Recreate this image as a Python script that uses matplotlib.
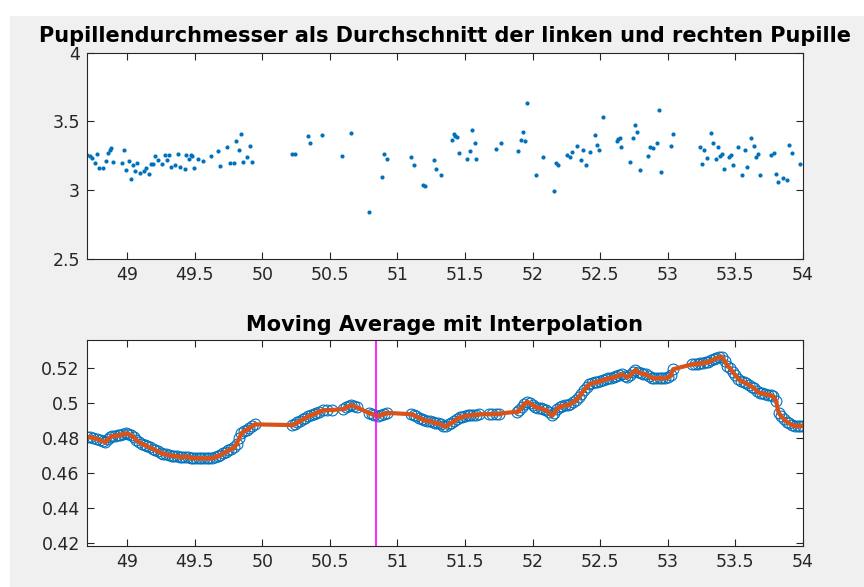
import matplotlib
matplotlib.use("Agg")
import matplotlib.pyplot as plt
from matplotlib.patches import Rectangle

# ---------------- data ----------------
# top: pupil diameter (mean of left/right) over time
pupil_t = [48.704, 48.724, 48.741, 48.761, 48.778, 48.793, 48.822, 48.842, 48.859, 48.872,
           48.879, 48.896, 48.963, 48.978, 48.995, 49.012, 49.027, 49.044, 49.062, 49.076,
           49.094, 49.126, 49.143, 49.160, 49.175, 49.192, 49.210, 49.229, 49.261, 49.279,
           49.296, 49.311, 49.328, 49.358, 49.377, 49.390, 49.427, 49.439, 49.456, 49.471,
           49.481, 49.496, 49.525, 49.562, 49.624, 49.673, 49.691, 49.742, 49.760, 49.789,
           49.809, 49.826, 49.840, 49.858, 49.890, 49.907, 49.925,
           50.221, 50.240, 50.339, 50.356, 50.443, 50.591, 50.655, 50.790, 50.887, 50.901,
           50.924, 51.104, 51.121, 51.190, 51.207, 51.271, 51.288, 51.321, 51.404, 51.417,
           51.429, 51.444, 51.454, 51.518, 51.535, 51.552, 51.572, 51.584,
           51.727, 51.764, 51.894, 51.911, 51.926, 51.943, 51.961, 52.027, 52.076, 52.158,
           52.175, 52.190, 52.256, 52.273, 52.291, 52.325, 52.360, 52.374, 52.392, 52.424,
           52.458, 52.473, 52.490, 52.522, 52.621, 52.633, 52.643, 52.655, 52.724, 52.739,
           52.756, 52.773, 52.791, 52.855, 52.872, 52.887, 52.921, 52.938, 52.953, 53.020,
           53.037, 53.236, 53.254, 53.271, 53.288, 53.320, 53.337, 53.355, 53.369, 53.387,
           53.404, 53.419, 53.451, 53.468, 53.483, 53.517, 53.552, 53.569, 53.586, 53.618,
           53.635, 53.653, 53.665, 53.685, 53.764, 53.783, 53.800, 53.815, 53.850, 53.882,
           53.899, 53.919, 53.980]
pupil_d = [3.253, 3.246, 3.236, 3.200, 3.263, 3.159, 3.163, 3.214, 3.272, 3.294,
           3.306, 3.202, 3.197, 3.289, 3.149, 3.209, 3.084, 3.185, 3.139, 3.197,
           3.125, 3.137, 3.163, 3.117, 3.192, 3.188, 3.246, 3.217, 3.190, 3.253,
           3.217, 3.253, 3.166, 3.180, 3.265, 3.168, 3.151, 3.253, 3.229, 3.253,
           3.251, 3.159, 3.226, 3.212, 3.251, 3.285, 3.178, 3.316, 3.195, 3.197,
           3.355, 3.294, 3.406, 3.205, 3.241, 3.323, 3.202,
           3.263, 3.263, 3.396, 3.345, 3.401, 3.251, 3.413, 2.841, 3.093, 3.263,
           3.226, 3.241, 3.185, 3.035, 3.033, 3.219, 3.156, 3.108, 3.367, 3.410,
           3.393, 3.384, 3.270, 3.229, 3.287, 3.435, 3.347, 3.229,
           3.299, 3.340, 3.287, 3.362, 3.423, 3.355, 3.633, 3.110, 3.241, 2.994,
           3.197, 3.185, 3.253, 3.241, 3.275, 3.318, 3.217, 3.289, 3.180, 3.280,
           3.398, 3.326, 3.294, 3.534, 3.360, 3.372, 3.381, 3.311, 3.205, 3.381,
           3.476, 3.427, 3.146, 3.251, 3.311, 3.306, 3.343, 3.585, 3.132, 3.323,
           3.408, 3.316, 3.192, 3.294, 3.234, 3.415, 3.345, 3.224, 3.316, 3.248,
           3.265, 3.154, 3.241, 3.255, 3.185, 3.311, 3.110, 3.292, 3.166, 3.381,
           3.323, 3.243, 3.260, 3.110, 3.258, 3.272, 3.115, 3.059, 3.091, 3.071,
           3.326, 3.272, 3.190]

# bottom: moving average samples
ma_t = [48.705, 48.73, 48.75, 48.775, 48.80, 48.82, 48.84, 48.86, 48.875, 48.89,
        48.91, 48.93, 48.95, 48.97, 48.99, 49.01, 49.03, 49.05, 49.07, 49.09,
        49.11, 49.13, 49.15, 49.17, 49.19, 49.21, 49.23, 49.25, 49.27, 49.29,
        49.31, 49.33, 49.35, 49.37, 49.39, 49.41, 49.43, 49.45, 49.47, 49.49,
        49.51, 49.53, 49.55, 49.57, 49.59, 49.61, 49.63, 49.65, 49.67, 49.69,
        49.71, 49.73, 49.75, 49.77, 49.79, 49.81, 49.83, 49.845, 49.865, 49.885,
        49.905, 49.925, 49.945,
        50.22, 50.24, 50.26, 50.28, 50.30, 50.32, 50.34, 50.36, 50.38, 50.40,
        50.42, 50.45, 50.48, 50.52, 50.60, 50.62, 50.64, 50.66, 50.68, 50.70,
        50.79, 50.81, 50.83, 50.86, 50.88, 50.90, 50.92,
        51.10, 51.12, 51.14, 51.16, 51.18, 51.20, 51.22, 51.24, 51.26, 51.28,
        51.30, 51.32, 51.34, 51.36, 51.38, 51.40, 51.42, 51.44, 51.46, 51.48,
        51.50, 51.52, 51.54, 51.56, 51.58, 51.60,
        51.675, 51.70, 51.73, 51.755,
        51.885, 51.90, 51.92, 51.94, 51.96, 51.98, 52.00, 52.02, 52.04, 52.06,
        52.08, 52.10, 52.12, 52.14, 52.16, 52.18, 52.20, 52.22, 52.24, 52.26,
        52.28, 52.30, 52.32, 52.34, 52.36, 52.38, 52.40, 52.42, 52.44, 52.46,
        52.48, 52.50, 52.52, 52.54, 52.56, 52.58, 52.60, 52.62, 52.64, 52.66,
        52.68, 52.70, 52.72, 52.74, 52.76, 52.78, 52.80, 52.82, 52.84, 52.86,
        52.88, 52.90, 52.92, 52.94, 52.96, 52.98, 53.00, 53.02, 53.04,
        53.18, 53.20, 53.22, 53.24, 53.26, 53.28, 53.30, 53.32, 53.34, 53.36,
        53.38, 53.40, 53.42, 53.44, 53.46, 53.48, 53.50, 53.52, 53.54, 53.56,
        53.58, 53.60, 53.62, 53.64, 53.66, 53.68, 53.70, 53.72, 53.74, 53.76,
        53.78, 53.80, 53.82, 53.84, 53.86, 53.88, 53.90, 53.92, 53.94, 53.96,
        53.98, 54.00]
ma_v = [0.4805, 0.4808, 0.4802, 0.4797, 0.4790, 0.4784, 0.4781, 0.4795, 0.4806, 0.4812,
        0.4815, 0.4818, 0.4820, 0.4824, 0.4828, 0.4826, 0.4818, 0.4806, 0.4792, 0.4778,
        0.4770, 0.4763, 0.4755, 0.4748, 0.4740, 0.4733, 0.4725, 0.4718, 0.4713, 0.4708,
        0.4705, 0.4702, 0.4700, 0.4698, 0.4695, 0.4695, 0.4696, 0.4694, 0.4690, 0.4689,
        0.4687, 0.4686, 0.4686, 0.4686, 0.4686, 0.4686, 0.4688, 0.4694, 0.4700, 0.4706,
        0.4714, 0.4724, 0.4732, 0.4740, 0.4748, 0.4770, 0.4800, 0.4828, 0.4840, 0.4850,
        0.4860, 0.4870, 0.4880,
        0.4876, 0.4884, 0.4892, 0.4900, 0.4910, 0.4918, 0.4925, 0.4932, 0.4940, 0.4947,
        0.4953, 0.4960, 0.4962, 0.4962, 0.4968, 0.4978, 0.4985, 0.4990, 0.4985, 0.4977,
        0.4945, 0.4940, 0.4935, 0.4930, 0.4935, 0.4942, 0.4946,
        0.4938, 0.4932, 0.4925, 0.4918, 0.4912, 0.4906, 0.4902, 0.4898, 0.4894, 0.4890,
        0.4887, 0.4880, 0.4873, 0.4868, 0.4880, 0.4890, 0.4900, 0.4912, 0.4920, 0.4924,
        0.4928, 0.4931, 0.4933, 0.4934, 0.4936, 0.4937,
        0.4939, 0.4940, 0.4941, 0.4942,
        0.4952, 0.4962, 0.4980, 0.4996, 0.5009, 0.5000, 0.4990, 0.4982, 0.4976, 0.4972,
        0.4966, 0.4960, 0.4948, 0.4932, 0.4945, 0.4970, 0.4980, 0.4986, 0.4989, 0.4992,
        0.4996, 0.5008, 0.5020, 0.5038, 0.5056, 0.5078, 0.5096, 0.5108, 0.5114, 0.5120,
        0.5124, 0.5129, 0.5134, 0.5138, 0.5143, 0.5146, 0.5150, 0.5154, 0.5163, 0.5165,
        0.5158, 0.5152, 0.5160, 0.5178, 0.5190, 0.5180, 0.5171, 0.5168, 0.5165, 0.5155,
        0.5146, 0.5144, 0.5143, 0.5143, 0.5143, 0.5143, 0.5150, 0.5160, 0.5195,
        0.5223, 0.5225, 0.5227, 0.5229, 0.5232, 0.5234, 0.5238, 0.5245, 0.5252, 0.5258,
        0.5264, 0.5267, 0.5240, 0.5215, 0.5202, 0.5180, 0.5160, 0.5142, 0.5130, 0.5122,
        0.5115, 0.5105, 0.5096, 0.5085, 0.5068, 0.5060, 0.5057, 0.5053, 0.5050, 0.5046,
        0.5040, 0.5015, 0.4945, 0.4925, 0.4910, 0.4895, 0.4885, 0.4878, 0.4873, 0.4872,
        0.4872, 0.4872]

marker_t = 50.844  # vertical event line

x_ticks = [49, 49.5, 50, 50.5, 51, 51.5, 52, 52.5, 53, 53.5, 54]
x_labels = ["49", "49.5", "50", "50.5", "51", "51.5", "52", "52.5", "53", "53.5", "54"]
top_yticks = [2.5, 3, 3.5, 4]
top_ylabels = ["2.5", "3", "3.5", "4"]
bot_yticks = [0.42, 0.44, 0.46, 0.48, 0.50, 0.52]
bot_ylabels = ["0.42", "0.44", "0.46", "0.48", "0.5", "0.52"]

title_top = "Pupillendurchmesser als Durchschnitt der linken und rechten Pupille"
title_bot = "Moving Average mit Interpolation"

# ---------------- style ----------------
BLUE = "#0072BD"
ORANGE = "#D95319"
MAGENTA = "#FF00FF"
AXC = "#262626"
BG = "#F0F0F0"

plt.rcParams['font.family'] = ['DejaVu Sans']

fig = plt.figure(figsize=(8.64, 5.87), dpi=100, facecolor="white")
fig.patches.append(Rectangle((10 / 864, 0), 1, 1 - 16 / 587, transform=fig.transFigure,
                             facecolor=BG, edgecolor="none", zorder=-10))

W, H = 864.0, 587.0
ax1 = fig.add_axes([86.7 / W, 1 - 259 / H, (803 - 86.7) / W, (259 - 52.7) / H])
ax2 = fig.add_axes([86.7 / W, 1 - 546 / H, (803 - 86.7) / W, (546 - 340) / H])


def style(ax):
    ax.set_facecolor("white")
    for s in ax.spines.values():
        s.set_color(AXC)
        s.set_linewidth(0.8)
    ax.tick_params(direction="in", length=5, width=0.8, color=AXC, labelcolor=AXC,
                   labelsize=12.5, top=True, right=True, pad=5)
    ax.set_xticks(x_ticks)
    ax.set_xticklabels(x_labels)
    ax.set_xlim(48.702, 54.0)


style(ax1)
ax1.plot(pupil_t, pupil_d, linestyle="none", marker="o", markersize=3.0,
         markerfacecolor=BLUE, markeredgecolor="none", color=BLUE)
ax1.set_ylim(2.5, 4)
ax1.set_yticks(top_yticks)
ax1.set_yticklabels(top_ylabels)
ax1.set_title(title_top, fontsize=15, fontweight="bold", color="black", pad=8)

style(ax2)
ax2.plot(ma_t, ma_v, linestyle="none", marker="o", markersize=7.8,
         markerfacecolor="none", markeredgecolor=BLUE, markeredgewidth=0.8)
ax2.plot(ma_t, ma_v, color=ORANGE, linewidth=3.0, marker=".", markersize=4)
ax2.axvline(marker_t, color=MAGENTA, linewidth=1.2)
ax2.set_ylim(0.4185, 0.5362)
ax2.set_yticks(bot_yticks)
ax2.set_yticklabels(bot_ylabels)
ax2.set_title(title_bot, fontsize=15, fontweight="bold", color="black", pad=6.7)

fig.savefig("out.png", dpi=100, facecolor=fig.get_facecolor())
